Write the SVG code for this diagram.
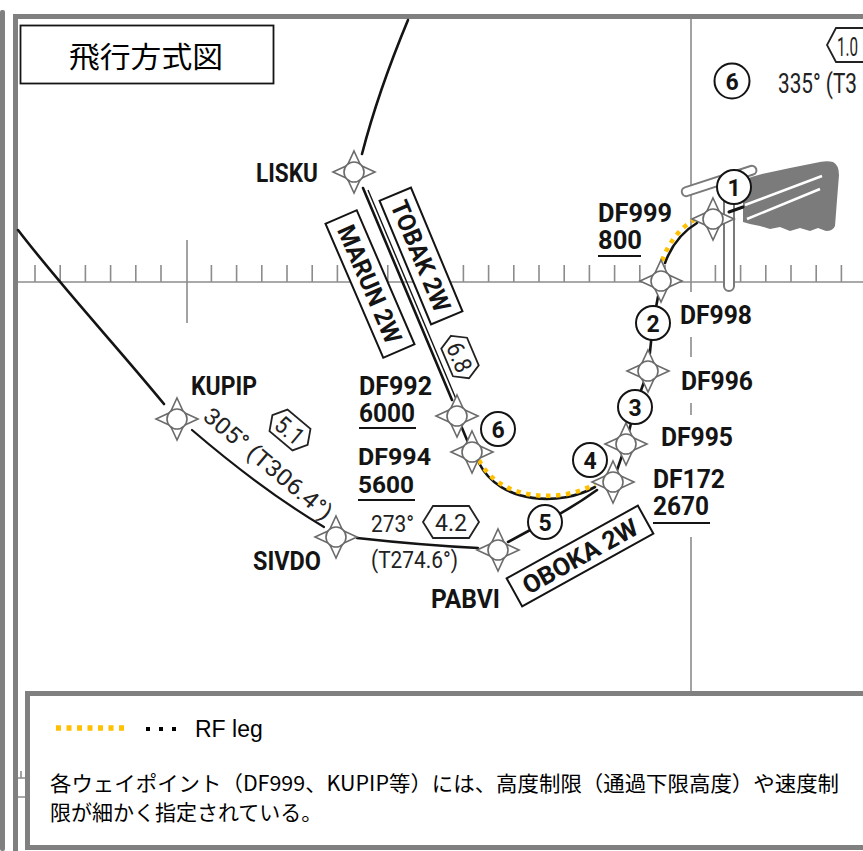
<svg xmlns="http://www.w3.org/2000/svg" xmlns:xlink="http://www.w3.org/1999/xlink" width="863" height="851" viewBox="0 0 863 851">
<style>
.frame{fill:none;stroke:#808080;stroke-width:5}
.grid{fill:none;stroke:#8c8c8c;stroke-width:1.6}
.route{fill:none;stroke:#141414;stroke-width:2.6;stroke-linecap:round}
.thin{fill:none;stroke:#141414;stroke-width:1.4}
.rf{fill:none;stroke:#FFC000;stroke-width:4.5;stroke-dasharray:4.5 5.5}
.wp{fill:#fff;stroke:#6b6b6b;stroke-width:1.6}
.num{fill:#fff;stroke:#141414;stroke-width:2}
.box{fill:#fff;stroke:#141414;stroke-width:2}
.hex{fill:#fff;stroke:#222;stroke-width:1.8}
.lbl{font-family:Roboto,"DejaVu Sans",sans-serif;font-weight:700;font-size:25px;fill:#141414}
.cn{font-family:Roboto,"DejaVu Sans",sans-serif;font-weight:700;font-size:23px;fill:#141414;text-anchor:middle;dominant-baseline:central}
.crs{font-family:Roboto,"DejaVu Sans",sans-serif;font-weight:400;font-size:23px;fill:#222}
.hx{font-family:Roboto,"DejaVu Sans",sans-serif;font-weight:400;font-size:24px;fill:#222;text-anchor:middle;dominant-baseline:central}
.ul{stroke:#141414;stroke-width:2.2}
.jp{font-family:"Noto Sans CJK JP",sans-serif;fill:#000}
.rwy{fill:#fff;stroke:#7a7a7a;stroke-width:2}
</style>
<defs>
<g id="wpsym">
<path class="wp" d="M0,-21 L6,-8 L-6,-8 Z M21,0 L8,6 L8,-6 Z M0,21 L-6,8 L6,8 Z M-21,0 L-8,-6 L-8,6 Z"/>
<circle class="wp" r="10"/>
</g>
<path id="hexs" d="M-23,0 L-15,-14 L15,-14 L23,0 L15,14 L-15,14 Z"/>
</defs>

<g id="frame">
<rect x="0" y="10" width="5" height="841" rx="2" fill="#808080"/>
<path class="frame" d="M15.5,851 V16.5 H863"/>
</g>

<g id="grid">
<path class="grid" d="M18,282 H863"/>
<path class="grid" d="M35,265V282M60.2,265V282M85.4,265V282M110.6,265V282M135.8,265V282M161,265V282M211.4,265V282M236.6,265V282M261.8,265V282M287,265V282M312.2,265V282M337.4,265V282M362.6,265V282M387.8,265V282M413,265V282M438.2,265V282M463.4,265V282M488.6,265V282M513.8,265V282M539,265V282M564.2,265V282M589.4,265V282M614.6,265V282M639.8,265V282M665,265V282M715.4,265V282M740.6,265V282M765.8,265V282M791,265V282M816.2,265V282M841.4,265V282"/>
<path class="grid" d="M187,240V323"/>
<path class="grid" d="M691,19V292M691,337V357M691,403V415M691,537V692"/>
<path class="grid" d="M18,778H25M21,771V778M18,797H25"/>
</g>

<g id="runway">
<rect class="rwy" x="0" y="-4.5" width="78" height="9" rx="4.5" transform="translate(682,193) rotate(-18)"/>
<rect class="rwy" x="724" y="180" width="10" height="111" rx="5"/>
<path fill="#7b7b7b" d="M743,181 Q752,176 762,174 L790,168 L815,163 Q826,160 833,162 Q839,165 839,175 L837,200 L835,226 Q833,231 826,231 L818,228 L810,231 L800,228 L790,231 L780,227 L770,229 L760,226 L750,224 L743,222 Z"/>
<path fill="none" stroke="#fff" stroke-width="2.5" d="M745,205 L822,176 M747,219 L820,189"/>
</g>

<g id="connectors">
<path class="route" d="M408,20 Q378,92 362,154"/>
<path class="route" d="M363,188 L452,400"/>
<path class="thin" d="M368,190 L456,399"/>
<path class="route" d="M457,416 L472,452"/>
<path class="route" d="M18,230 C60,285 120,350 164,404"/>
<path class="route" d="M192,430 Q262,490 324,527" style="stroke-width:2.2"/>
<path class="route" d="M357,538 Q420,545 478,548"/>
<path class="route" d="M508,542 L545,522 M545,522 Q575,506 597,490"/>
<path class="route" d="M613,482 L626,444 L635,407 L648,371 L653,323 L661,281"/>
<path class="route" d="M479,463 C500,505 562,506 595,487"/>
<path class="rf" d="M479,460 C500,502 562,503 595,484"/>
<path class="route" d="M665,263 Q675,236 697,223"/>
<path class="rf" d="M662,261 Q672,233 694,220"/>
<path class="route" d="M729,212 L743,207" style="stroke-width:3"/>
</g>

<g id="LISKU"><use xlink:href="#wpsym" href="#wpsym" x="354" y="172"/><text class="lbl" x="256" y="182" textLength="62" lengthAdjust="spacingAndGlyphs">LISKU</text></g>
<g id="DF999"><use xlink:href="#wpsym" href="#wpsym" x="713" y="219"/><text class="lbl" x="598" y="222" textLength="74" lengthAdjust="spacingAndGlyphs">DF999</text><text class="lbl" x="598" y="249" textLength="44" lengthAdjust="spacingAndGlyphs">800</text><line class="ul" x1="598" y1="256" x2="641" y2="256"/></g>
<g id="DF998"><use xlink:href="#wpsym" href="#wpsym" x="661" y="281"/><text class="lbl" x="680" y="324" textLength="72" lengthAdjust="spacingAndGlyphs">DF998</text></g>
<g id="DF996"><use xlink:href="#wpsym" href="#wpsym" x="648" y="371"/><text class="lbl" x="681" y="390" textLength="72" lengthAdjust="spacingAndGlyphs">DF996</text></g>
<g id="DF995"><use xlink:href="#wpsym" href="#wpsym" x="626" y="444"/><text class="lbl" x="661" y="446" textLength="72" lengthAdjust="spacingAndGlyphs">DF995</text></g>
<g id="DF172"><use xlink:href="#wpsym" href="#wpsym" x="613" y="482"/><text class="lbl" x="653" y="488" textLength="72" lengthAdjust="spacingAndGlyphs">DF172</text><text class="lbl" x="653" y="515" textLength="56" lengthAdjust="spacingAndGlyphs">2670</text><line class="ul" x1="653" y1="523" x2="710" y2="523"/></g>
<g id="PABVI"><use xlink:href="#wpsym" href="#wpsym" x="498" y="550"/><text class="lbl" x="431" y="608" textLength="69" lengthAdjust="spacingAndGlyphs">PABVI</text></g>
<g id="KUPIP"><use xlink:href="#wpsym" href="#wpsym" x="177" y="419"/><text class="lbl" x="191" y="395" textLength="66" lengthAdjust="spacingAndGlyphs">KUPIP</text></g>
<g id="SIVDO"><use xlink:href="#wpsym" href="#wpsym" x="336" y="537"/><text class="lbl" x="253" y="570" textLength="68" lengthAdjust="spacingAndGlyphs">SIVDO</text></g>
<g id="DF992"><use xlink:href="#wpsym" href="#wpsym" x="457" y="416"/><text class="lbl" x="359" y="395" textLength="73" lengthAdjust="spacingAndGlyphs">DF992</text><text class="lbl" x="359" y="422" textLength="56" lengthAdjust="spacingAndGlyphs">6000</text><line class="ul" x1="359" y1="428" x2="416" y2="428"/></g>
<g id="DF994"><use xlink:href="#wpsym" href="#wpsym" x="472" y="452"/><text class="lbl" x="358" y="465" style="font-size:24px" textLength="73" lengthAdjust="spacingAndGlyphs">DF994</text><text class="lbl" x="358" y="493" style="font-size:24px" textLength="56" lengthAdjust="spacingAndGlyphs">5600</text><line class="ul" x1="358" y1="500" x2="415" y2="500"/></g>

<g id="seq1"><circle class="num" cx="734" cy="187" r="17"/><text class="cn" x="734" y="188">1</text></g>
<g id="seq2"><circle class="num" cx="653" cy="323" r="17"/><text class="cn" x="653" y="324">2</text></g>
<g id="seq3"><circle class="num" cx="635" cy="407" r="17"/><text class="cn" x="635" y="408">3</text></g>
<g id="seq4"><circle class="num" cx="590" cy="460" r="17"/><text class="cn" x="590" y="461">4</text></g>
<g id="seq5"><circle class="num" cx="545" cy="522" r="17"/><text class="cn" x="545" y="523">5</text></g>
<g id="seq6"><circle class="num" cx="498" cy="429" r="17"/><text class="cn" x="498" y="430">6</text></g>
<g id="seq6top"><circle class="num" cx="732" cy="81" r="17.5"/><text class="cn" x="732" y="82">6</text></g>

<g id="TOBAK2W" transform="translate(421,256) rotate(67.4)"><rect class="box" x="-67" y="-17" width="134" height="34"/><text class="lbl" x="0" y="9" text-anchor="middle" textLength="118" lengthAdjust="spacingAndGlyphs">TOBAK 2W</text></g>
<g id="MARUN2W" transform="translate(370,284) rotate(66.7)"><rect class="box" x="-73" y="-17" width="146" height="34"/><text class="lbl" x="0" y="9" text-anchor="middle" textLength="126" lengthAdjust="spacingAndGlyphs">MARUN 2W</text></g>
<g id="OBOKA2W" transform="translate(580,556) rotate(-29)"><rect class="box" x="-75" y="-16" width="150" height="32"/><text class="lbl" x="0" y="9" text-anchor="middle" textLength="128" lengthAdjust="spacingAndGlyphs">OBOKA 2W</text></g>

<g id="dist68" transform="translate(460,357) rotate(67)"><use xlink:href="#hexs" href="#hexs" class="hex"/><text class="hx" x="0" y="1" textLength="30" lengthAdjust="spacingAndGlyphs">6.8</text></g>
<g id="dist51" transform="translate(290,430) rotate(40)"><use xlink:href="#hexs" href="#hexs" class="hex"/><text class="hx" x="0" y="1" textLength="30" lengthAdjust="spacingAndGlyphs">5.1</text></g>
<g id="dist42" transform="translate(451,522)"><path class="hex" d="M-28,0 L-18,-16 L18,-16 L28,0 L18,16 L-18,16 Z"/><text class="hx" x="0" y="1" textLength="32" lengthAdjust="spacingAndGlyphs">4.2</text></g>
<g id="dist10"><path class="hex" d="M875,28 L836,28 L827,45 L836,62 L875,62"/><text class="crs" x="837" y="56" style="font-size:25px" textLength="21" lengthAdjust="spacingAndGlyphs">1.0</text></g>

<g id="courses">
<text class="crs" x="263" y="470" text-anchor="middle" transform="rotate(40 263 470)" textLength="160" lengthAdjust="spacingAndGlyphs">305° (T306.4°)</text>
<text class="crs" x="371" y="532" style="font-size:24px" textLength="43" lengthAdjust="spacingAndGlyphs">273°</text>
<text class="crs" x="371" y="568" textLength="87" lengthAdjust="spacingAndGlyphs">(T274.6°)</text>
<text class="crs" x="778" y="93" style="font-size:27px" textLength="79" lengthAdjust="spacingAndGlyphs">335° (T3</text>
</g>

<g id="title">
<rect x="20.5" y="25.5" width="253" height="58" fill="#fff" stroke="#141414" stroke-width="1.8"/>
<text class="jp" x="146" y="68" text-anchor="middle" font-size="29" textLength="154" lengthAdjust="spacingAndGlyphs">飛行方式図</text>
</g>

<g id="legend">
<rect x="27.5" y="693.5" width="845" height="154" fill="#fff" stroke="#808080" stroke-width="5"/>
<line x1="56" y1="728" x2="124" y2="728" stroke="#FFC000" stroke-width="5.5" stroke-dasharray="5 5.5"/>
<line x1="146" y1="729" x2="176" y2="729" stroke="#000" stroke-width="4" stroke-dasharray="4 9"/>
<text x="195" y="737" font-family="'Liberation Sans',Arial,sans-serif" font-size="23" fill="#000">RF leg</text>
<text class="jp" x="50" y="791" font-size="21" textLength="789" lengthAdjust="spacingAndGlyphs">各ウェイポイント（DF999、KUPIP等）には、高度制限（通過下限高度）や速度制</text>
<text class="jp" x="50" y="820" font-size="21">限が細かく指定されている。</text>
</g>
</svg>
